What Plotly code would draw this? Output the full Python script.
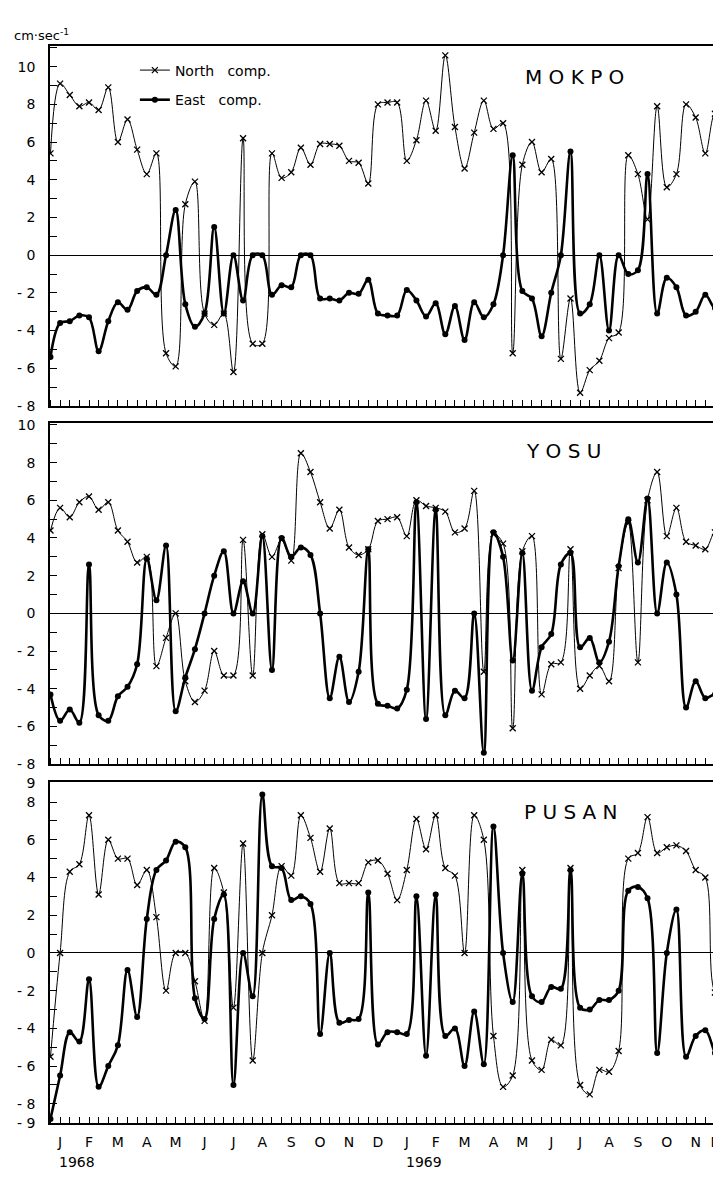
import plotly.graph_objects as go

# ---------------- data (10-day values, Jan 1968 - Dec 1969) ----------------
dekads = list(range(71))
month_labels = ["J", "F", "M", "A", "M", "J", "J", "A", "S", "O", "N", "D"] * 2
month_pos = [3 * i + 1 for i in range(23)] + [69.1]
year_labels = ["1968", "1969"]

mokpo_north = [5.4, 9.1, 8.5, 7.9, 8.1, 7.7, 8.9, 6.0, 7.2, 5.6,
               4.3, 5.4, -5.2, -5.9, 2.7, 3.9, -3.1, -3.7, -3.1, -6.2,
               6.2, -4.7, -4.7, 5.4, 4.1, 4.4, 5.7, 4.8, 5.9, 5.9,
               5.8, 5.0, 4.9, 3.8, 8.0, 8.1, 8.1, 5.0, 6.1, 8.2,
               6.6, 10.6, 6.8, 4.6, 6.5, 8.2, 6.7, 7.0, -5.2, 4.8,
               6.0, 4.4, 5.1, -5.5, -2.3, -7.3, -6.1, -5.6, -4.4, -4.1,
               5.3, 4.3, 1.9, 7.9, 3.6, 4.3, 8.0, 7.3, 5.4, 7.5, 6.7]
mokpo_east = [-5.4, -3.6, -3.5, -3.2, -3.3, -5.1, -3.5, -2.5, -2.9, -1.9,
              -1.7, -2.1, 0.0, 2.4, -2.6, -3.8, -3.1, 1.5, -3.1, 0.0,
              -2.4, 0.0, 0.0, -2.1, -1.6, -1.7, 0.0, 0.0, -2.3, -2.3,
              -2.4, -2.0, -2.05, -1.3, -3.1, -3.2, -3.2, -1.85, -2.4, -3.25,
              -2.55, -4.2, -2.7, -4.5, -2.5, -3.3, -2.6, 0.0, 5.3, -1.9,
              -2.3, -4.3, -2.0, 0.0, 5.5, -3.1, -2.6, 0.0, -4.0, 0.0,
              -1.0, -0.8, 4.3, -3.1, -1.2, -1.7, -3.2, -3.0, -2.1, -2.8, -2.6]

yosu_north = [4.4, 5.6, 5.1, 5.9, 6.2, 5.5, 5.9, 4.4, 3.8, 2.7,
              3.0, -2.8, -1.3, 0.0, -3.6, -4.7, -4.1, -2.0, -3.3, -3.3,
              3.9, -3.3, 4.2, 3.0, 3.9, 2.8, 8.5, 7.5, 5.9, 4.5,
              5.5, 3.5, 3.1, 3.4, 4.9, 5.0, 5.1, 4.1, 6.0, 5.7,
              5.6, 5.4, 4.3, 4.5, 6.5, -3.1, 4.2, 3.7, -6.1, 3.3,
              4.1, -4.3, -2.7, -2.6, 3.4, -4.0, -3.3, -2.8, -3.6, 2.4,
              4.8, -2.6, 6.0, 7.5, 4.1, 5.6, 3.8, 3.6, 3.4, 4.3, 3.2]
yosu_east = [-4.3, -5.7, -5.1, -5.8, 2.6, -5.4, -5.7, -4.4, -3.9, -2.7,
             2.9, 0.7, 3.6, -5.2, -3.4, -1.9, 0.0, 2.0, 3.3, 0.0,
             1.7, 0.0, 4.1, -3.0, 4.0, 3.0, 3.5, 3.1, 0.0, -4.5,
             -2.3, -4.7, -3.1, 3.4, -4.8, -4.9, -5.05, -4.05, 5.9, -5.6,
             5.5, -5.4, -4.1, -4.5, 0.0, -7.4, 4.3, 3.0, -2.5, 3.2,
             -4.1, -1.8, -1.1, 2.6, 3.2, -1.8, -1.3, -2.6, -1.5, 2.5,
             5.0, 2.7, 6.1, 0.0, 2.7, 1.0, -5.0, -3.6, -4.5, -4.3, -4.7]

pusan_north = [-5.5, 0.0, 4.3, 4.7, 7.3, 3.1, 6.0, 5.0, 5.0, 3.6,
               4.4, 1.9, -2.0, 0.0, 0.0, -1.5, -3.6, 4.5, 3.2, -2.9,
               5.8, -5.7, 0.0, 2.0, 4.6, 4.1, 7.3, 6.1, 4.3, 6.6,
               3.7, 3.7, 3.7, 4.8, 4.9, 4.2, 2.8, 4.4, 7.1, 5.5,
               7.3, 4.5, 4.1, 0.0, 7.3, 6.0, -4.4, -7.1, -6.5, 4.4,
               -5.7, -6.2, -4.6, -4.9, 4.5, -7.0, -7.5, -6.2, -6.3, -5.2,
               5.0, 5.3, 7.2, 5.3, 5.6, 5.7, 5.4, 4.4, 4.0, -2.1, -2.5]
pusan_east = [-8.8, -6.5, -4.2, -4.7, -1.4, -7.1, -6.0, -4.9, -0.9, -3.4,
              1.8, 4.4, 4.9, 5.9, 5.6, -2.4, -3.5, 1.8, 3.1, -7.0,
              0.0, -2.3, 8.4, 4.6, 4.5, 2.8, 3.0, 2.6, -4.3, 0.0,
              -3.7, -3.55, -3.5, 3.2, -4.85, -4.2, -4.2, -4.3, 3.0, -5.45,
              3.1, -4.4, -4.0, -6.0, -3.1, -5.9, 6.7, 0.0, -2.6, 4.2,
              -2.3, -2.6, -1.8, -1.9, 4.4, -2.9, -3.0, -2.5, -2.5, -2.0,
              3.3, 3.5, 2.9, -5.3, 0.0, 2.3, -5.5, -4.4, -4.1, -5.3, -6.2]

stations = ["M O K P O", "Y O S U", "P U S A N"]
north_series = [mokpo_north, yosu_north, pusan_north]
east_series = [mokpo_east, yosu_east, pusan_east]

# ---------------- layout geometry ----------------
W, H = 721, 1178
L = 42
domains = [[1 - 396 / H, 1 - 31.7 / H], [1 - 758.8 / H, 1 - 413.3 / H], [1 - 1122 / H, 1 - 777.3 / H]]
yranges = [[-8, 11.08], [-8, 10.1], [-9, 9.04]]
ytickvals = [list(range(-8, 11, 2)), list(range(-8, 11, 2)), [-9, -8, -6, -4, -2, 0, 2, 4, 6, 8, 9]]
xrange_ = [-0.05, 70.46]
FONT = "DejaVu Sans"


def fmt(v):
    return "- %d" % (-v) if v < 0 else str(v)


fig = go.Figure()
for i in range(3):
    xa = "x" if i == 0 else "x%d" % (i + 1)
    ya = "y" if i == 0 else "y%d" % (i + 1)
    fig.add_trace(go.Scatter(
        x=dekads, y=north_series[i], xaxis=xa, yaxis=ya,
        mode="lines+markers", name="North   comp.",
        line=dict(color="black", width=1, shape="spline", smoothing=1.0),
        marker=dict(symbol="x-thin", size=6, line=dict(color="black", width=1.3)),
        showlegend=(i == 0), legend="legend",
    ))
    fig.add_trace(go.Scatter(
        x=dekads, y=east_series[i], xaxis=xa, yaxis=ya,
        mode="lines+markers", name="East   comp.",
        line=dict(color="black", width=2.6, shape="spline", smoothing=1.0),
        marker=dict(symbol="circle", size=6, color="black"),
        showlegend=(i == 0), legend="legend2",
    ))

layout = dict(
    width=W, height=H,
    margin=dict(l=L, r=0, t=0, b=0),
    paper_bgcolor="white", plot_bgcolor="white",
    font=dict(family=FONT, size=13, color="black"),
    legend=dict(x=0.125, y=1 - 40 / H, xanchor="left", yanchor="top",
                font=dict(size=14, family=FONT), bgcolor="rgba(0,0,0,0)"),
    legend2=dict(x=0.125, y=1 - 70 / H, xanchor="left", yanchor="top",
                 font=dict(size=14, family=FONT), bgcolor="rgba(0,0,0,0)"),
)

for i in range(3):
    xk = "xaxis" if i == 0 else "xaxis%d" % (i + 1)
    yk = "yaxis" if i == 0 else "yaxis%d" % (i + 1)
    ya = "y" if i == 0 else "y%d" % (i + 1)
    xa = "x" if i == 0 else "x%d" % (i + 1)
    last = (i == 2)
    layout[xk] = dict(
        domain=[0, 1], anchor=ya, range=xrange_,
        showgrid=False, zeroline=False,
        showline=True, linecolor="black", linewidth=1.5, mirror=True,
        ticks="", tickvals=month_pos, ticktext=month_labels,
        showticklabels=last, tickfont=dict(size=14, family=FONT),
        ticklabelstandoff=6, ticklabeloverflow="allow",
        minor=dict(dtick=1, tick0=0, ticks="inside", ticklen=6, tickcolor="black", tickwidth=1),
    )
    layout[yk] = dict(
        domain=domains[i], anchor=xa, range=yranges[i],
        showgrid=False, zeroline=True, zerolinecolor="black", zerolinewidth=1.2,
        showline=True, linecolor="black", linewidth=1.5, mirror=False,
        ticks="inside", ticklen=7, tickcolor="black", tickwidth=1,
        tickvals=ytickvals[i], ticktext=[fmt(v) for v in ytickvals[i]],
        tickfont=dict(size=14, family=FONT), ticklabelstandoff=10,
        minor=dict(dtick=1, tick0=0, ticks="inside", ticklen=7, tickcolor="black", tickwidth=1),
    )

fig.update_layout(**layout)

# station names
name_pos = [(0.773, 1 - 63 / H), (0.756, 1 - 442 / H), (0.767, 1 - 807 / H)]
for s, (px, py) in zip(stations, name_pos):
    fig.add_annotation(text=s, x=px, y=py, xref="paper", yref="paper",
                       showarrow=False, font=dict(size=20, family=FONT),
                       xanchor="center", yanchor="middle")

# unit label
fig.add_annotation(text="cm·sec<sup>-1</sup>", x=-(L - 4) / (W - L), y=1 - 20 / H,
                   xref="paper", yref="paper", showarrow=False, xanchor="left",
                   yanchor="middle", font=dict(size=13, family=FONT))

# year labels under the month axis
for lbl, k in zip(year_labels, [month_pos[0], month_pos[12]]):
    fig.add_annotation(text=lbl, x=k - 0.3, y=1 - 1162 / H, xref="x3", yref="paper",
                       showarrow=False, xanchor="left", yanchor="middle",
                       font=dict(size=14, family=FONT))

fig.write_html("out.html")
